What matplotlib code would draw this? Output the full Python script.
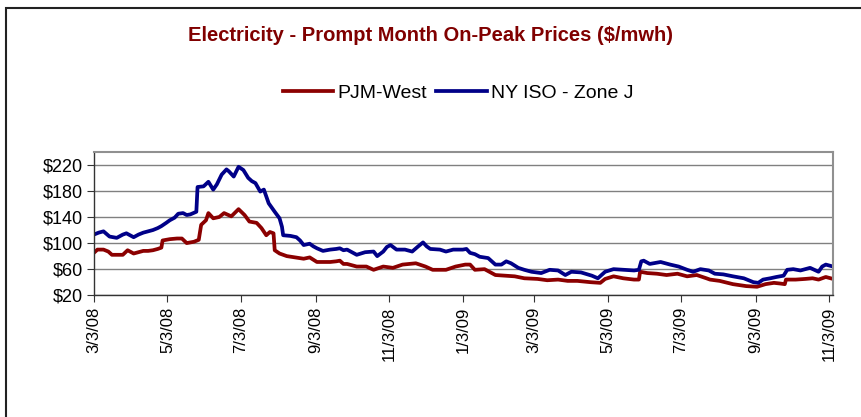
import matplotlib
matplotlib.use("Agg")
import matplotlib.pyplot as plt
import pandas as pd
from matplotlib.patches import Rectangle

plt.rcParams['font.family'] = ['Liberation Sans', 'DejaVu Sans']

# Data: day offsets from 3/3/2008 and prices ($/mwh)
start = pd.Timestamp("2008-03-03")

ny_days = [0, 4, 8, 13, 19, 24, 27, 30, 33, 37, 41, 45, 49, 53, 56, 60, 63, 67, 70, 74,
           77, 80, 85, 86, 91, 95, 99, 102, 106, 110, 112, 116, 120, 124, 128, 131, 134,
           138, 141, 145, 150, 154, 156, 157, 163, 168, 171, 174, 179, 182, 185, 190, 196,
           201, 204, 207, 210, 214, 218, 225, 232, 235, 240, 243, 246, 251, 258, 264, 269,
           273, 276, 279, 287, 292, 298, 306, 309, 312, 316, 320, 327, 333, 338, 342, 346,
           352, 357, 363, 371, 378, 385, 391, 396, 404, 413, 418, 424, 431, 439, 448, 452,
           454, 456, 461, 470, 478, 485, 492, 497, 503, 510, 515, 522, 530, 539, 547, 551,
           555, 561, 566, 572, 575, 580, 586, 594, 601, 604, 607, 611]
ny_vals = [113, 116, 118, 110, 108, 113, 115, 112, 109, 113, 116, 118, 120, 123, 126, 131,
           135, 139, 145, 146, 143, 144, 148, 186, 187, 194, 182, 190, 205, 213, 210, 202,
           217, 212, 200, 195, 192, 179, 182, 161, 148, 138, 125, 112, 111, 109, 104, 97,
           99, 95, 92, 88, 90, 91, 92, 89, 90, 86, 82, 86, 87, 80, 87, 94, 97, 90, 90, 87,
           95, 101, 95, 91, 90, 87, 90, 90, 91, 85, 83, 79, 77, 67, 67, 72, 69, 62, 59, 56,
           54, 59, 58, 51, 56, 55, 50, 46, 56, 60, 59, 58, 59, 72, 73, 68, 71, 67, 64, 59,
           56, 60, 58, 53, 52, 49, 46, 40, 39, 44, 46, 48, 50, 59, 60, 58, 62, 56, 64, 67, 65]

pjm_days = [0, 3, 8, 12, 15, 20, 24, 28, 33, 37, 41, 45, 49, 53, 56, 57, 63, 69, 73, 77,
            83, 87, 89, 93, 95, 99, 104, 108, 114, 120, 125, 129, 135, 139, 143, 146, 149,
            150, 154, 160, 167, 174, 179, 185, 196, 201, 204, 207, 210, 218, 226, 232, 240,
            248, 256, 267, 275, 281, 292, 300, 308, 312, 316, 324, 333, 341, 349, 357, 368,
            376, 385, 393, 401, 412, 420, 424, 431, 439, 448, 452, 453, 459, 467, 475, 484,
            492, 500, 508, 511, 519, 530, 541, 550, 557, 564, 569, 573, 574, 582, 590, 596,
            601, 607, 611]
pjm_vals = [85, 90, 90, 87, 82, 82, 82, 89, 84, 86, 88, 88, 89, 91, 93, 104, 106, 107, 107,
            100, 102, 105, 128, 135, 146, 138, 140, 146, 141, 152, 143, 133, 131, 123, 112,
            117, 115, 89, 84, 80, 78, 76, 78, 71, 71, 72, 73, 68, 68, 64, 64, 59, 64, 62, 67,
            69, 64, 59, 59, 64, 67, 67, 59, 60, 51, 50, 49, 46, 45, 43, 44, 42, 42, 40, 39,
            45, 49, 46, 44, 44, 56, 54, 53, 51, 53, 49, 51, 46, 44, 42, 37, 34, 33, 37, 39,
            38, 37, 44, 44, 45, 46, 44, 48, 46]

tick_labels = ["3/3/08", "5/3/08", "7/3/08", "9/3/08", "11/3/08", "1/3/09",
               "3/3/09", "5/3/09", "7/3/09", "9/3/09", "11/3/09"]
y_ticks = [20, 60, 100, 140, 180, 220]

ny_dates = start + pd.to_timedelta(ny_days, unit="D")
pjm_dates = start + pd.to_timedelta(pjm_days, unit="D")
tick_dates = pd.to_datetime(tick_labels, format="%m/%d/%y")

fig = plt.figure(figsize=(8.61, 4.17), dpi=100)
ax = fig.add_axes([0.109, 0.292, 0.8585, 0.344])

ax.plot(pjm_dates, pjm_vals, color="#8B0000", lw=2.7, label="PJM-West")
ax.plot(ny_dates, ny_vals, color="#000088", lw=2.7, label="NY ISO - Zone J")

ax.set_ylim(20, 240)
ax.set_yticks(y_ticks)
ax.set_yticklabels(["$%d" % v for v in y_ticks], fontsize=13)
ax.set_xlim(start, pd.Timestamp("2009-11-06"))
ax.set_xticks(tick_dates)
ax.set_xticklabels(tick_labels, rotation=90, fontsize=12)

ax.grid(axis="y", color="#808080", lw=1)
ax.set_axisbelow(True)
ax.tick_params(axis="both", direction="out", length=5, color="#333333", pad=3)
for s in ["top", "right"]:
    ax.spines[s].set_color("#909090")
    ax.spines[s].set_linewidth(1.5)
for s in ["left", "bottom"]:
    ax.spines[s].set_color("#333333")
    ax.spines[s].set_linewidth(1)

fig.text(0.5, 0.916, "Electricity - Prompt Month On-Peak Prices ($/mwh)",
         ha="center", va="center", fontsize=14.5, fontweight="bold", color="#800000")
fig.legend(loc="center", bbox_to_anchor=(0.532, 0.777), ncol=2, frameon=False,
           fontsize=14, handlelength=2.6, handletextpad=0.2, columnspacing=0.5)

# outer chart border (only left and top edges show in the crop)
fig.patches.append(Rectangle((6 / 861, -0.2), 1.2, 1.2 - 8 / 417, transform=fig.transFigure,
                             fill=False, edgecolor="#222222", lw=1.5))

fig.savefig("out.png", dpi=100)
